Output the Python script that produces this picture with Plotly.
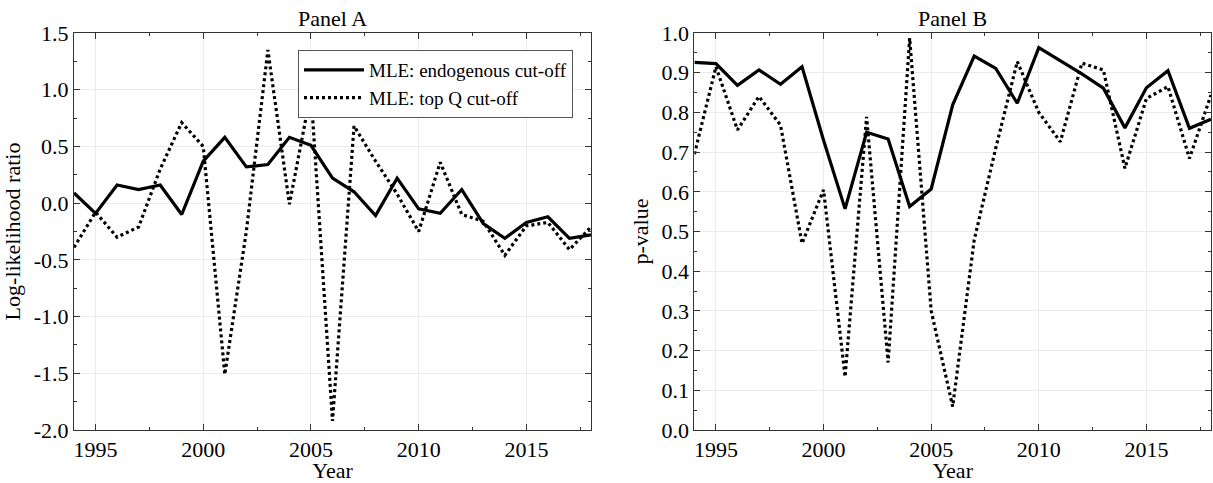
import plotly.graph_objects as go

# Survey years
years = list(range(1994, 2019))

# Panel A: log-likelihood ratio
llr_endogenous = [0.09, -0.09, 0.16, 0.12, 0.16, -0.10, 0.37, 0.58, 0.32, 0.34,
                  0.58, 0.51, 0.22, 0.10, -0.11, 0.22, -0.05, -0.09, 0.12, -0.18,
                  -0.31, -0.17, -0.12, -0.31, -0.28]
llr_topq = [-0.39, -0.08, -0.30, -0.21, 0.30, 0.71, 0.50, -1.51, -0.25, 1.35,
            -0.01, 0.98, -1.92, 0.68, 0.37, 0.08, -0.25, 0.36, -0.10, -0.16,
            -0.46, -0.20, -0.17, -0.41, -0.21]

# Panel B: p-values
pval_endogenous = [0.926, 0.923, 0.868, 0.907, 0.871, 0.915, 0.730, 0.557, 0.750, 0.733,
                   0.563, 0.607, 0.819, 0.942, 0.911, 0.823, 0.963, 0.930, 0.897, 0.861,
                   0.761, 0.862, 0.905, 0.760, 0.783]
pval_topq = [0.695, 0.915, 0.756, 0.840, 0.768, 0.470, 0.605, 0.134, 0.789, 0.170,
             0.987, 0.300, 0.059, 0.479, 0.710, 0.928, 0.800, 0.726, 0.924, 0.907,
             0.659, 0.835, 0.865, 0.684, 0.844]

series_names = ["MLE: endogenous cut-off", "MLE: top Q cut-off"]
panel_titles = ["Panel A", "Panel B"]
x_ticks = [1995, 2000, 2005, 2010, 2015]
llr_ticks = [-2.0, -1.5, -1.0, -0.5, 0.0, 0.5, 1.0, 1.5]
pval_ticks = [0.0, 0.1, 0.2, 0.3, 0.4, 0.5, 0.6, 0.7, 0.8, 0.9, 1.0]

FONT = "Liberation Serif"
FS = 22
W, H = 1213, 483

solid = dict(color="black", width=3.2)
dotted = dict(color="black", width=3.2, dash="3px,3px")

fig = go.Figure()
fig.add_trace(go.Scatter(x=years, y=llr_endogenous, mode="lines", line=solid,
                         name=series_names[0], xaxis="x", yaxis="y"))
fig.add_trace(go.Scatter(x=years, y=llr_topq, mode="lines", line=dotted,
                         name=series_names[1], xaxis="x", yaxis="y"))
fig.add_trace(go.Scatter(x=years, y=pval_endogenous, mode="lines", line=solid,
                         showlegend=False, xaxis="x2", yaxis="y2"))
fig.add_trace(go.Scatter(x=years, y=pval_topq, mode="lines", line=dotted,
                         showlegend=False, xaxis="x2", yaxis="y2"))


def fmt(v):
    return f"{v:.1f}"


axis_common = dict(
    showline=True, linecolor="#333", linewidth=1, mirror="ticks",
    ticks="inside", ticklen=6, tickwidth=1, tickcolor="#333",
    showgrid=True, gridcolor="#ebebeb", gridwidth=1, zeroline=False,
    tickfont=dict(family=FONT, size=FS, color="black"),
)
minor_x = dict(ticks="inside", ticklen=3, tickcolor="#333", dtick=2.5, tick0=1995, showgrid=False)
title_font = dict(family=FONT, size=FS, color="black")

dom_a = [74 / W, 591 / W]
dom_b = [694.4 / W, 1211 / W]

fig.update_layout(
    width=W, height=H, autosize=False,
    margin=dict(l=0, r=0, t=33, b=53),
    paper_bgcolor="white", plot_bgcolor="white",
    font=dict(family=FONT, size=FS, color="black"),
    xaxis=dict(domain=dom_a, range=[1994, 2018], tickvals=x_ticks, minor=minor_x,
               anchor="y", title=dict(text="Year", standoff=0, font=title_font),
               **axis_common),
    yaxis=dict(domain=[0, 1], range=[-2.0, 1.5], tickvals=llr_ticks,
               ticktext=[fmt(v) for v in llr_ticks], anchor="x",
               minor=dict(ticks="inside", ticklen=3, tickcolor="#333", dtick=0.25,
                          tick0=0, showgrid=False),
               title=dict(text="Log-likelihood ratio", standoff=8, font=title_font),
               **axis_common),
    xaxis2=dict(domain=dom_b, range=[1994, 2018], tickvals=x_ticks, minor=minor_x,
                anchor="y2", title=dict(text="Year", standoff=0, font=title_font),
                **axis_common),
    yaxis2=dict(domain=[0, 1], range=[0, 1.0], tickvals=pval_ticks,
                ticktext=[fmt(v) for v in pval_ticks], anchor="x2",
                minor=dict(ticks="inside", ticklen=3, tickcolor="#333", dtick=0.05,
                           tick0=0, showgrid=False),
                title=dict(text="p-value", standoff=6, font=title_font),
                **axis_common),
    legend=dict(x=298 / W, y=1 - 17 / 397, xanchor="left", yanchor="top",
                bgcolor="white", bordercolor="#555", borderwidth=1,
                font=dict(family=FONT, size=19, color="black"),
                itemwidth=60, tracegroupgap=0),
    showlegend=True,
)

for title, dom in zip(panel_titles, [dom_a, dom_b]):
    fig.add_annotation(text=title, x=(dom[0] + dom[1]) / 2, y=1, xref="paper", yref="paper",
                       xanchor="center", yanchor="bottom", yshift=0, showarrow=False,
                       font=dict(family=FONT, size=FS, color="black"))

fig.write_html("out.html")
